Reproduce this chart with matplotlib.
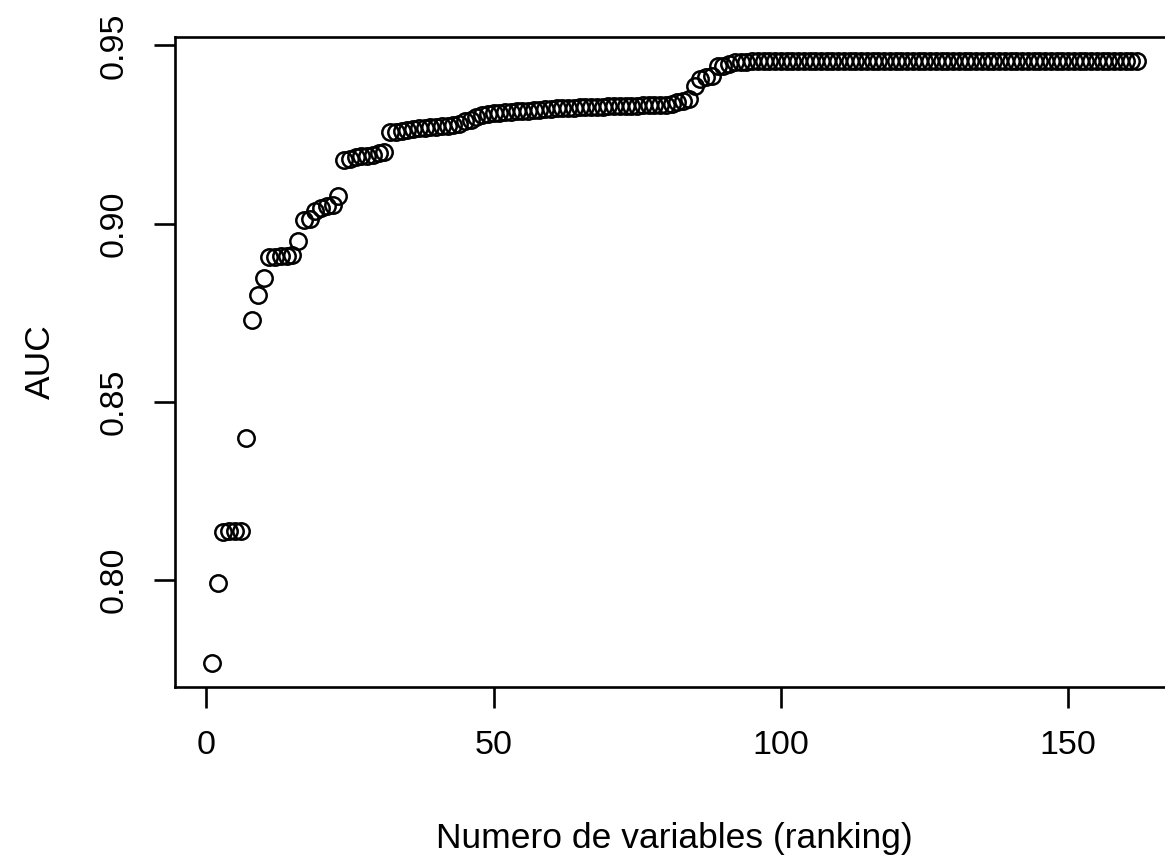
import matplotlib
matplotlib.use("Agg")
import matplotlib.pyplot as plt

# AUC segun numero de variables del ranking
auc_inicio = [0.7767, 0.7992, 0.8135, 0.8136, 0.8137, 0.8138, 0.8399, 0.8730, 0.8800, 0.8848,
              0.8905, 0.8907, 0.8908, 0.8910, 0.8913, 0.8950, 0.9011, 0.9014, 0.9036, 0.9045,
              0.9050, 0.9053, 0.9076, 0.9177, 0.9180, 0.9186, 0.9189, 0.9191, 0.9193, 0.9197,
              0.9200]
auc_medio = [0.9256, 0.9258, 0.9260, 0.9263, 0.9265, 0.9267, 0.9268, 0.9270, 0.9272, 0.9273,
             0.9275, 0.9277, 0.9279, 0.9288, 0.9292, 0.9298, 0.9306, 0.9308, 0.9310, 0.9311,
             0.9312, 0.9314, 0.9315, 0.9316, 0.9317, 0.9319, 0.9320, 0.9321, 0.9322, 0.9323,
             0.9324, 0.9325, 0.9325, 0.9326, 0.9327, 0.9327, 0.9328, 0.9328, 0.9329, 0.9329,
             0.9330, 0.9330, 0.9331, 0.9331, 0.9332, 0.9332, 0.9333, 0.9333, 0.9334, 0.9336,
             0.9340, 0.9345]
auc_salto = [0.9350, 0.9385, 0.9405, 0.9412, 0.9414, 0.9441, 0.9443, 0.9448, 0.9452]
auc_final = [0.9454, 0.9454, 0.9455, 0.9455, 0.9455, 0.9455, 0.9455, 0.9455, 0.9455, 0.9455,
             0.9455, 0.9455, 0.9455, 0.9455, 0.9455, 0.9455, 0.9455, 0.9455, 0.9455, 0.9455,
             0.9455, 0.9455, 0.9455, 0.9455, 0.9455, 0.9456, 0.9456, 0.9456, 0.9456, 0.9456,
             0.9456, 0.9456, 0.9456, 0.9456, 0.9456, 0.9456, 0.9456, 0.9456, 0.9456, 0.9456,
             0.9456, 0.9456, 0.9456, 0.9456, 0.9456, 0.9456, 0.9456, 0.9456, 0.9456, 0.9456,
             0.9456, 0.9456, 0.9456, 0.9456, 0.9456, 0.9456, 0.9456, 0.9456, 0.9456, 0.9456,
             0.9456, 0.9456, 0.9456, 0.9456, 0.9456, 0.9456, 0.9456, 0.9456, 0.9456, 0.9456]

auc = auc_inicio + auc_medio + auc_salto + auc_final
n_vars = list(range(1, len(auc) + 1))

x_ticks = [0, 50, 100, 150]
y_ticks = [0.80, 0.85, 0.90, 0.95]

plt.rcParams["font.family"] = ["Liberation Sans", "DejaVu Sans"]

W, H = 1165, 861
fig = plt.figure(figsize=(W / 100, H / 100), dpi=100)
# caja del grafico en pixeles (la derecha queda cortada como en el original)
izq, der, arriba, abajo = 175, 1174, 37, 687
ax = fig.add_axes([izq / W, 1 - abajo / H, (der - izq) / W, (abajo - arriba) / H])

ax.plot(n_vars, auc, linestyle="none", marker="o", markersize=11.8,
        markerfacecolor="none", markeredgecolor="black", markeredgewidth=1.8)

# rango tipo R (4% extra)
def rango(v):
    lo, hi = min(v), max(v)
    r = hi - lo
    return lo - 0.04 * r, hi + 0.04 * r

ax.set_xlim(*rango(n_vars))
ax.set_ylim(*rango(auc))

ax.set_xticks(x_ticks)
ax.set_xticklabels([str(t) for t in x_ticks])
ax.set_yticks(y_ticks)
ax.set_yticklabels([f"{t:.2f}" for t in y_ticks], rotation=90, va="center")

for s in ax.spines.values():
    s.set_linewidth(1.9)
ax.tick_params(axis="both", length=15, width=1.9, labelsize=24.5, color="black")
ax.tick_params(axis="x", pad=16)
ax.tick_params(axis="y", pad=18)

ax.set_xlabel("Numero de variables (ranking)", fontsize=25.5, labelpad=44)
ax.set_ylabel("AUC", fontsize=25.5, labelpad=30)

fig.savefig("out.png", dpi=100)
